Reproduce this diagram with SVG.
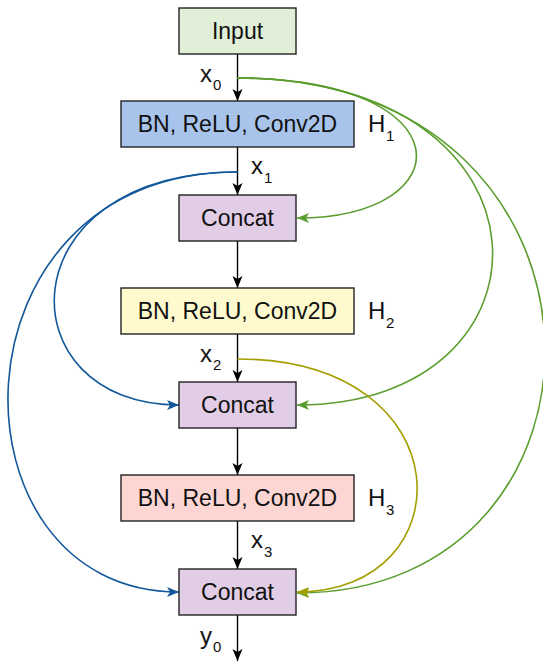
<svg xmlns="http://www.w3.org/2000/svg" width="543" height="662" viewBox="0 0 543 662">
<style>
.box{stroke:#222;stroke-width:1.4}
.t{font-family:"Liberation Sans",Arial,sans-serif;font-size:23px;fill:#111;text-anchor:middle}
.lb{font-family:"Liberation Sans",Arial,sans-serif;font-size:24px;fill:#111}
.sb{font-size:15px}
.ed{fill:none;stroke-width:1.6}
.k{stroke:#000;stroke-width:1.4;fill:none}
</style>
<defs>
<marker id="ak" markerUnits="userSpaceOnUse" markerWidth="14" markerHeight="12" refX="12" refY="5" orient="auto"><path d="M0,0 L12,5 L0,10 L3,5 z" fill="#000"/></marker>
<marker id="ag" markerUnits="userSpaceOnUse" markerWidth="14" markerHeight="12" refX="12" refY="5" orient="auto"><path d="M0,0 L12,5 L0,10 L3,5 z" fill="#5b9e2f"/></marker>
<marker id="ab" markerUnits="userSpaceOnUse" markerWidth="14" markerHeight="12" refX="12" refY="5" orient="auto"><path d="M0,0 L12,5 L0,10 L3,5 z" fill="#12589a"/></marker>
<marker id="ao" markerUnits="userSpaceOnUse" markerWidth="14" markerHeight="12" refX="12" refY="5" orient="auto"><path d="M0,0 L12,5 L0,10 L3,5 z" fill="#a39f00"/></marker>
</defs>
<g id="connectors">
<path class="k" d="M237.5,54 L237.5,101" marker-end="url(#ak)"/>
<path class="k" d="M237.5,147 L237.5,195" marker-end="url(#ak)"/>
<path class="k" d="M237.5,241 L237.5,288" marker-end="url(#ak)"/>
<path class="k" d="M237.5,334 L237.5,382" marker-end="url(#ak)"/>
<path class="k" d="M237.5,428 L237.5,475" marker-end="url(#ak)"/>
<path class="k" d="M237.5,521 L237.5,569" marker-end="url(#ak)"/>
<path class="k" d="M237.5,615 L237.5,661" marker-end="url(#ak)"/>
<path class="ed" stroke="#5b9e2f" d="M237.5,78 C465,78 465,218 297,218" marker-end="url(#ag)"/>
<path class="ed" stroke="#5b9e2f" d="M237.5,78 C567,78 567,405 297,405" marker-end="url(#ag)"/>
<path class="ed" stroke="#5b9e2f" d="M237.5,78 C637,78 637,593 297,593" marker-end="url(#ag)"/>
<path class="ed" stroke="#12589a" d="M237.5,172 C4,172 4,405 179,405" marker-end="url(#ab)"/>
<path class="ed" stroke="#12589a" d="M237.5,172 C-58,172 -58,592 179,592" marker-end="url(#ab)"/>
<path class="ed" stroke="#a39f00" d="M237.5,359 C466,359 466,592 297,592" marker-end="url(#ao)"/>
</g>
<g id="input"><rect class="box" x="179" y="8" width="117" height="46" fill="#e1efd8"/><text class="t" x="237.5" y="39">Input</text></g>
<g id="h1"><rect class="box" x="121" y="101" width="233" height="46" fill="#a9c4eb"/><text class="t" x="237.5" y="132">BN, ReLU, Conv2D</text></g>
<g id="concat1"><rect class="box" x="179" y="195" width="117" height="46" fill="#e1cde6"/><text class="t" x="237.5" y="226">Concat</text></g>
<g id="h2"><rect class="box" x="121" y="288" width="233" height="46" fill="#fefacd"/><text class="t" x="237.5" y="319">BN, ReLU, Conv2D</text></g>
<g id="concat2"><rect class="box" x="179" y="382" width="117" height="46" fill="#e1cde6"/><text class="t" x="237.5" y="413">Concat</text></g>
<g id="h3"><rect class="box" x="121" y="475" width="233" height="46" fill="#fdd6d3"/><text class="t" x="237.5" y="506">BN, ReLU, Conv2D</text></g>
<g id="concat3"><rect class="box" x="179" y="569" width="117" height="46" fill="#e1cde6"/><text class="t" x="237.5" y="600">Concat</text></g>
<g id="labels">
<text class="lb" x="200" y="82">x<tspan class="sb" x="213" y="90">0</tspan></text>
<text class="lb" x="368" y="132">H<tspan class="sb" x="386" y="141">1</tspan></text>
<text class="lb" x="251" y="174">x<tspan class="sb" x="264" y="183">1</tspan></text>
<text class="lb" x="368" y="319">H<tspan class="sb" x="386" y="328">2</tspan></text>
<text class="lb" x="200" y="362">x<tspan class="sb" x="213" y="370">2</tspan></text>
<text class="lb" x="368" y="506">H<tspan class="sb" x="386" y="515">3</tspan></text>
<text class="lb" x="251" y="548">x<tspan class="sb" x="264" y="557">3</tspan></text>
<text class="lb" x="200" y="644">y<tspan class="sb" x="213" y="652">0</tspan></text>
</g>
</svg>
